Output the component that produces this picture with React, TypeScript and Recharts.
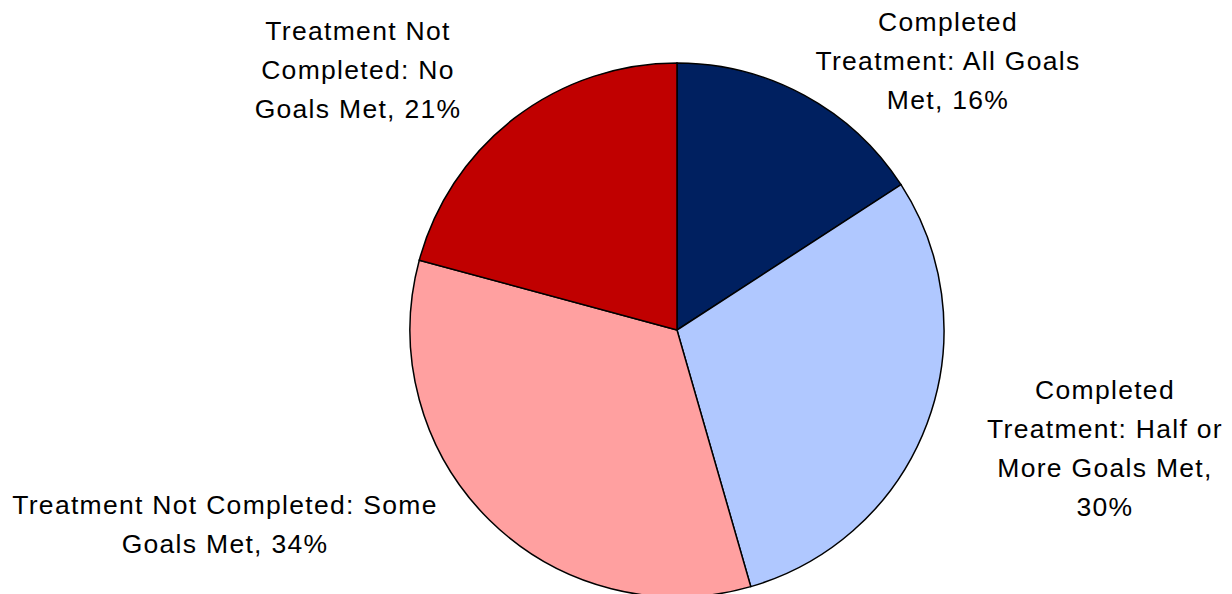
import { PieChart, Pie, Cell } from 'recharts';

const categories = [
  'Completed Treatment: All Goals Met',
  'Completed Treatment: Half or More Goals Met',
  'Treatment Not Completed: Some Goals Met',
  'Treatment Not Completed: No Goals Met',
];
const shares = [16, 30, 34, 21];

// label text broken into lines the way the original wraps them
const labelLines = [
  ['Completed', 'Treatment: All Goals', 'Met, 16%'],
  ['Completed', 'Treatment: Half or', 'More Goals Met,', '30%'],
  ['Treatment Not Completed: Some', 'Goals Met, 34%'],
  ['Treatment Not', 'Completed: No', 'Goals Met, 21%'],
];

const colors = ['#002060', '#B0C8FF', '#FFA0A0', '#C00000'];

// offset of each label block (center x, first line y) from the pie center
const labelOffsets = [
  { dx: 271, dy: -308 },
  { dx: 428, dy: 60 },
  { dx: -452, dy: 175 },
  { dx: -319, dy: -299 },
];

const data = categories.map((name, i) => ({ name, value: shares[i] }));

const LINE_HEIGHT = 39;

const renderLabel = ({ cx, cy, index }: any) => {
  const off = labelOffsets[index];
  const x = cx + off.dx;
  const y = cy + off.dy;
  return (
    <text
      x={x}
      y={y}
      textAnchor="middle"
      dominantBaseline="central"
      fill="#000"
      fontSize={26.5}
      letterSpacing={1.3}
      fontFamily="'Liberation Sans', Arial, sans-serif"
    >
      {labelLines[index].map((line, j) => (
        <tspan key={j} x={x} y={y + j * LINE_HEIGHT}>
          {line}
        </tspan>
      ))}
    </text>
  );
};

export default function App() {
  return (
    <div style={{ width: 1232, height: 594, background: '#fff' }}>
      <style>{'body { margin: 0; }'}</style>
      <PieChart width={1232} height={594}>
        <Pie
          data={data}
          dataKey="value"
          nameKey="name"
          cx={672}
          cy={325}
          outerRadius={267}
          startAngle={90}
          endAngle={-270}
          stroke="#000"
          strokeWidth={1.5}
          label={renderLabel}
          labelLine={false}
          isAnimationActive={false}
        >
          {data.map((d, i) => (
            <Cell key={d.name} fill={colors[i]} />
          ))}
        </Pie>
      </PieChart>
    </div>
  );
}
